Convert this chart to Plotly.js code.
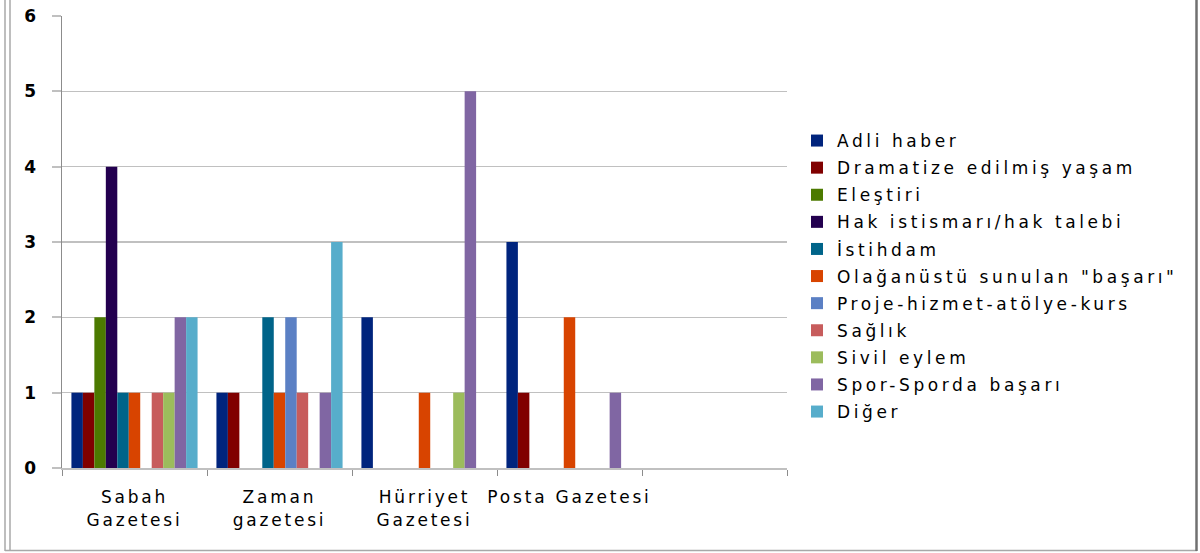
<!DOCTYPE html>
<html>
<head>
<meta charset="utf-8">
<script src="https://cdn.plot.ly/plotly-3.0.1.min.js"></script>
<style>
  html, body { margin: 0; padding: 0; background: #fff; }
  #chart { width: 1200px; height: 553px; }
  .legendtext { letter-spacing: 3.6px; }
  .xtick text { letter-spacing: 2.8px; }
</style>
</head>
<body>
<div id="chart"></div>
<script>
// ---- data ----
const categories = ['Sabah<br>Gazetesi', 'Zaman<br>gazetesi', 'Hürriyet<br>Gazetesi', 'Posta Gazetesi', ' '];
const seriesNames = [
  'Adli haber',
  'Dramatize edilmiş yaşam',
  'Eleştiri',
  'Hak istismarı/hak talebi',
  'İstihdam',
  'Olağanüstü sunulan "başarı"',
  'Proje-hizmet-atölye-kurs',
  'Sağlık',
  'Sivil eylem',
  'Spor-Sporda başarı',
  'Diğer'
];
const adliHaber      = [1, 1, 2, 3, null];
const dramatize      = [1, 1, 0, 1, null];
const elestiri       = [2, 0, 0, 0, null];
const hakIstismari   = [4, 0, 0, 0, null];
const istihdam       = [1, 2, 0, 0, null];
const olaganustu     = [1, 1, 1, 2, null];
const proje          = [0, 2, 0, 0, null];
const saglik         = [1, 1, 0, 0, null];
const sivilEylem     = [1, 0, 1, 0, null];
const spor           = [2, 1, 5, 1, null];
const diger          = [2, 3, 0, 0, null];
const seriesValues = [adliHaber, dramatize, elestiri, hakIstismari, istihdam, olaganustu, proje, saglik, sivilEylem, spor, diger];
const seriesColors = ['#00247D', '#800000', '#4C7A00', '#23004F', '#006489', '#D84400', '#5B80C4', '#C75C5C', '#9CBC5C', '#8066A3', '#57ADCB'];
const yTicks = [0, 1, 2, 3, 4, 5, 6];

// ---- geometry helpers (pixel -> paper) ----
const W = 1200, H = 553;
const M = { l: 62, r: 413, t: 16, b: 85 };
const PW = W - M.l - M.r, PH = H - M.t - M.b;
const px = v => (v - M.l) / PW;
const py = v => 1 - (v - M.t) / PH;

const traces = seriesNames.map((name, i) => ({
  type: 'bar',
  name: name,
  x: categories,
  y: seriesValues[i],
  legendgroup: 'g' + i,
  marker: { color: seriesColors[i], line: { width: 0 } },
  hoverinfo: 'x+y+name'
}));

const borderLine = (x0, y0, x1, y1, color, width) => ({
  type: 'line', xref: 'paper', yref: 'paper',
  x0: px(x0), y0: py(y0), x1: px(x1), y1: py(y1),
  line: { color: color, width: width }
});

const layout = {
  width: W, height: H,
  margin: M,
  paper_bgcolor: '#ffffff',
  plot_bgcolor: '#ffffff',
  font: { family: 'DejaVu Sans, sans-serif', color: '#000000' },
  barmode: 'group',
  bargap: 0.13,
  bargroupgap: 0,
  showlegend: true,
  legend: {
    x: px(797), xanchor: 'left',
    y: py(123), yanchor: 'top',
    traceorder: 'grouped',
    tracegroupgap: 2,
    font: { size: 17, color: '#000000', family: 'DejaVu Sans, sans-serif' },
    bgcolor: 'rgba(0,0,0,0)',
    itemwidth: 30
  },
  xaxis: {
    type: 'category',
    range: [-0.5, 4.5],
    tickson: 'boundaries',
    ticks: 'outside',
    ticklen: 6,
    tickcolor: '#8C8C8C',
    tickwidth: 1,
    showline: true,
    linecolor: '#C0C0C0',
    linewidth: 2,
    showgrid: false,
    zeroline: false,
    tickangle: 0,
    ticklabelstandoff: 13,
    tickfont: { size: 17, color: '#000000', family: 'DejaVu Sans, sans-serif' }
  },
  yaxis: {
    range: [0, 6],
    tickvals: yTicks,
    ticktext: yTicks.map(String),
    ticks: 'outside',
    ticklen: 9,
    tickcolor: '#C0C0C0',
    tickwidth: 2,
    showgrid: true,
    gridcolor: '#C0C0C0',
    gridwidth: 1.5,
    showline: true,
    linecolor: '#8C8C8C',
    linewidth: 1.5,
    zeroline: false,
    ticklabelstandoff: 12,
    tickfont: { size: 17, color: '#000000', family: 'DejaVu Sans, sans-serif', weight: 'bold' }
  },
  shapes: [
    borderLine(5, 0, 5, 551, '#A8A8A8', 1.5),
    borderLine(10, 0, 10, 551, '#A8A8A8', 1.5),
    borderLine(5, 550.5, 1197, 550.5, '#A8A8A8', 1.5),
    borderLine(1196.5, 0, 1196.5, 551, '#707070', 2.5)
  ]
};

Plotly.newPlot('chart', traces, layout, { displayModeBar: false, staticPlot: true });
</script>
</body>
</html>
